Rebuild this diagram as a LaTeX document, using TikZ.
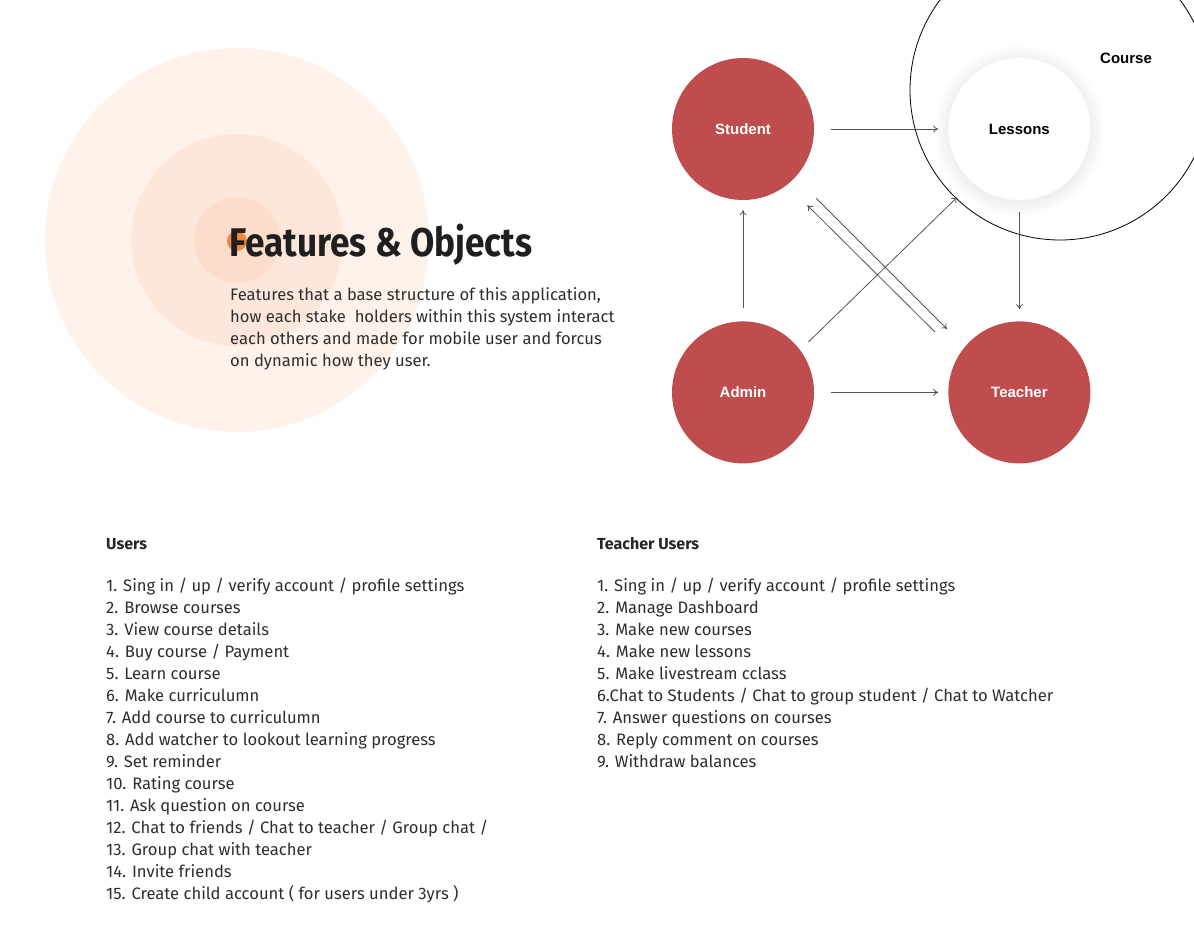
\documentclass[tikz,border=0pt]{standalone}
\usepackage{fontspec}
\setmainfont{Fira Sans}
\newfontfamily\titlefont[FakeStretch=0.88]{Fira Sans}
\newfontfamily\labelfont{Liberation Sans}
\usetikzlibrary{arrows.meta,positioning}

\definecolor{peachA}{HTML}{FEF2EA}
\definecolor{peachB}{HTML}{FDE7DB}
\definecolor{peachC}{HTML}{FCDDCB}
\definecolor{dotorange}{HTML}{F0883A}
\definecolor{actorred}{HTML}{C04D4D}
\definecolor{linegray}{HTML}{555555}
\definecolor{textgray}{HTML}{2E2E2E}

\begin{document}
\begin{tikzpicture}[x=1pt,y=-1pt,
    actor/.style={
        circle,
        fill=actorred,
        inner sep=0pt,
        minimum size=142pt,
        text=white,
        font=\labelfont\bfseries\fontsize{15}{18}\selectfont},
    objcircle/.style={actor,fill=white,text=black},
    myarrow/.style={-{To[length=5pt,width=7pt]},draw=linegray,line width=0.8pt},
    item/.style={anchor=base west,inner sep=0pt,text=textgray,
        font=\fontsize{16.6}{22}\selectfont},
    itemhead/.style={item,text=black!85,font=\bfseries\fontsize{16}{22}\selectfont},
    node distance=121pt and 134pt
    ]
    \useasboundingbox (0,0) rectangle (1194,942);
    \clip (0,0) rectangle (1194,942);
    \fill[white] (0,0) rectangle (1194,942);

    % background rings
    \fill[peachA] (237,240) circle (192);
    \fill[peachB] (237,240) circle (106);
    \fill[peachC] (237,240) circle (43);
    \fill[dotorange] (237,241) circle (10);

    \node[anchor=base west,inner sep=0pt,text=black!88,
        font=\titlefont\bfseries\fontsize{40}{44}\selectfont] (title) at (229,256) {Features \& Objects};
    \node[anchor=north west,inner sep=0pt,align=left,text=textgray,
        font=\fontsize{16.6}{22}\selectfont] (intro) at (230,287)
        {Features that a base structure of this application,\\
         how each stake\ \ holders within this system interact\\
         each others and made for mobile user and forcus\\
         on dynamic how they user.};

    % course and lessons
    \node[circle,draw=black,line width=0.8pt,minimum size=300pt] (course) at (1060,90) {};
    \node[font=\labelfont\bfseries\fontsize{15}{18}\selectfont] (coursetxt) at (1126,58) {Course};

    \node[actor] (student) at (743,129) {Student};
    \node[objcircle,right=of student] (lessons) {};
    \foreach \r in {72,73,...,86}
        \fill[black,opacity=0.004] ([yshift=-2pt]lessons.center) circle (\r);
    \node[objcircle] at (lessons) {Lessons};
    \node[actor,below=of student] (admin) {Admin};
    \node[actor,right=of admin] (teacher) {Teacher};

    \draw[myarrow,shorten <=17pt,shorten >=10pt] (student) -- (lessons);
    \draw[myarrow,shorten <=17pt,shorten >=10pt] (admin) -- (teacher);
    \draw[myarrow,shorten <=13pt,shorten >=10pt] (admin) -- (student);
    \draw[myarrow,shorten <=12pt,shorten >=12pt] (lessons) -- (teacher);
    \draw[myarrow] ([xshift=15pt]admin.north east) -- ([xshift=-12pt,yshift=-18pt]lessons.south west);
    \draw[myarrow] ([xshift=23pt,yshift=-19pt]student.south east) -- ([xshift=-22pt,yshift=13pt]teacher.north west);
    \draw[myarrow] ([xshift=-34pt,yshift=10pt]teacher.north west) -- ([xshift=14pt,yshift=-26pt]student.south east);

    % feature lists
    \node[itemhead] (users) at (106,549) {Users};
    \foreach \txt [count=\i] in {%
        1. Sing in / up / verify account / profile settings,
        2. Browse courses,
        3. View course details,
        4. Buy course / Payment,
        5. Learn course,
        6. Make curriculumn,
        7. Add course to curriculumn,
        8. Add watcher to lookout learning progress,
        9. Set reminder,
        10. Rating course,
        11. Ask question on course,
        12. Chat to friends / Chat to teacher / Group chat /,
        13. Group chat with teacher,
        14. Invite friends,
        15. Create child account ( for users under 3yrs )}
        \node[item] (u\i) at (106,569+22*\i) {\txt};

    \node[itemhead] (tusers) at (597,549) {Teacher Users};
    \foreach \txt [count=\i] in {%
        1. Sing in / up / verify account / profile settings,
        2. Manage Dashboard,
        3. Make new courses,
        4. Make new lessons,
        5. Make livestream cclass,
        6.Chat to Students / Chat to group student / Chat to Watcher,
        7. Answer questions on courses,
        8. Reply comment on courses,
        9. Withdraw balances}
        \node[item] (t\i) at (597,569+22*\i) {\txt};
\end{tikzpicture}
\end{document}
